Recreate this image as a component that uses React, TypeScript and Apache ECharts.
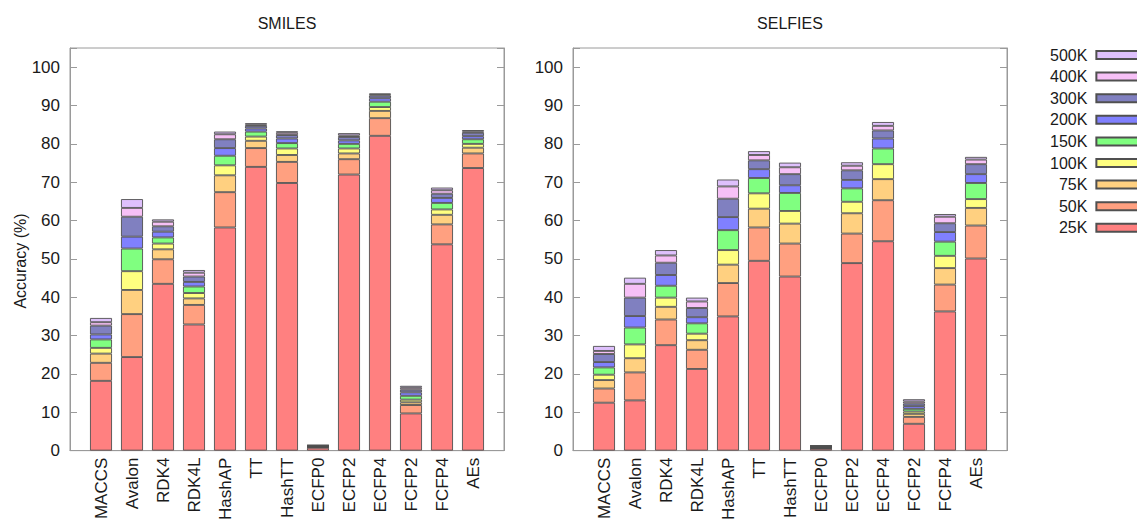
import React, { useEffect, useRef } from 'react';
import * as echarts from 'echarts';

// Fingerprint / representation methods along the x axis
const METHODS = ['MACCS', 'Avalon', 'RDK4', 'RDK4L', 'HashAP', 'TT', 'HashTT', 'ECFP0', 'ECFP2', 'ECFP4', 'FCFP2', 'FCFP4', 'AEs'];

// Training-set sizes, smallest first (stack order, bottom to top)
const SIZES = ['25K', '50K', '75K', '100K', '150K', '200K', '300K', '400K', '500K'];
const COLORS = ['#ff8080', '#ffa080', '#ffd080', '#ffff80', '#80ff80', '#8080ff', '#8080c0', '#f6c0f6', '#dec0fc'];

// Y axis tick labels
const Y_TICKS = [0, 10, 20, 30, 40, 50, 60, 70, 80, 90, 100];

// SMILES: accuracy (%) reached at each training size
const SMILES_25K = [18.2, 24.4, 43.5, 32.9, 58.2, 74.0, 69.8, 0.75, 72.0, 82.1, 9.7, 53.8, 73.7];
const SMILES_50K = [22.9, 35.6, 49.9, 38.0, 67.4, 78.9, 75.3, 0.88, 76.0, 86.7, 11.9, 59.0, 77.5];
const SMILES_75K = [25.3, 41.9, 52.5, 39.7, 71.8, 80.8, 77.1, 0.97, 77.5, 88.6, 12.6, 61.5, 79.0];
const SMILES_100K = [26.8, 46.8, 54.0, 41.1, 74.4, 81.9, 78.8, 1.05, 78.8, 89.6, 13.3, 62.9, 80.0];
const SMILES_150K = [29.0, 52.7, 55.6, 42.8, 76.9, 83.2, 80.2, 1.15, 80.0, 91.0, 14.3, 64.6, 81.2];
const SMILES_200K = [30.3, 55.8, 57.1, 44.0, 78.9, 84.0, 81.4, 1.25, 80.9, 91.9, 15.2, 65.9, 82.0];
const SMILES_300K = [32.6, 61.0, 58.5, 45.4, 81.2, 84.7, 82.3, 1.32, 81.8, 92.6, 15.9, 67.0, 82.9];
const SMILES_400K = [33.5, 63.3, 59.7, 46.4, 82.5, 85.0, 82.9, 1.38, 82.2, 92.9, 16.4, 67.9, 83.2];
const SMILES_500K = [34.6, 65.6, 60.3, 47.1, 83.2, 85.4, 83.3, 1.45, 82.8, 93.1, 16.9, 68.6, 83.6];

// SELFIES: accuracy (%) reached at each training size
const SELFIES_25K = [12.5, 13.1, 27.5, 21.3, 35.0, 49.5, 45.4, 0.5, 48.9, 54.6, 7.0, 36.3, 50.1];
const SELFIES_50K = [16.2, 20.4, 34.2, 26.3, 43.7, 58.2, 54.0, 0.65, 56.6, 65.3, 8.8, 43.3, 58.7];
const SELFIES_75K = [18.4, 24.1, 37.5, 28.8, 48.5, 63.1, 59.2, 0.75, 61.9, 70.8, 9.6, 47.6, 63.3];
const SELFIES_100K = [19.8, 27.7, 39.9, 30.5, 52.3, 67.1, 62.5, 0.85, 64.9, 74.7, 10.2, 50.8, 65.6];
const SELFIES_150K = [21.7, 32.1, 43.0, 33.2, 57.5, 71.1, 67.2, 1.0, 68.4, 78.8, 10.9, 54.5, 69.8];
const SELFIES_200K = [23.1, 35.1, 45.8, 34.8, 60.9, 73.4, 69.2, 1.1, 70.6, 81.4, 11.6, 57.0, 72.1];
const SELFIES_300K = [25.2, 39.9, 49.0, 37.2, 65.7, 75.7, 72.1, 1.18, 73.1, 83.5, 12.3, 59.3, 74.7];
const SELFIES_400K = [26.0, 43.5, 50.9, 38.9, 68.9, 77.1, 73.9, 1.24, 74.3, 84.7, 12.8, 61.0, 75.9];
const SELFIES_500K = [27.3, 45.1, 52.3, 39.9, 70.7, 78.1, 75.1, 1.3, 75.2, 85.7, 13.4, 61.7, 76.6];

const SMILES_LEVELS = [SMILES_25K, SMILES_50K, SMILES_75K, SMILES_100K, SMILES_150K, SMILES_200K, SMILES_300K, SMILES_400K, SMILES_500K];
const SELFIES_LEVELS = [SELFIES_25K, SELFIES_50K, SELFIES_75K, SELFIES_100K, SELFIES_150K, SELFIES_200K, SELFIES_300K, SELFIES_400K, SELFIES_500K];

const FONT = '"Liberation Sans", Arial, Helvetica, sans-serif';
const TEXT = '#1a1a1a';
const FRAME = '#9a9a9a';

// Padded category list: one empty slot on each side of the bars
const CATS = ['', ...METHODS, ' '];

// Stack segments: gain over the previous training size
function increments(levels: number[][], k: number): (number | string)[] {
  const vals = levels[k].map((v, i) => (k === 0 ? v : Math.round((v - levels[k - 1][i]) * 1000) / 1000));
  return ['-', ...vals, '-'];
}

function buildOption() {
  const grids = [
    { left: 70, top: 48, width: 434, height: 407 },
    { left: 573, top: 48, width: 434, height: 407 },
  ].map((g) => ({ ...g, show: true, borderColor: FRAME, borderWidth: 1, containLabel: false }));

  const xAxes = [0, 1].map((gi) => ({
    type: 'category',
    gridIndex: gi,
    data: CATS,
    boundaryGap: false,
    axisLine: { show: true, lineStyle: { color: FRAME, width: 1 } },
    axisTick: { show: false },
    splitLine: { show: false },
    axisLabel: {
      interval: 0,
      rotate: 90,
      margin: 7,
      fontSize: 17,
      fontFamily: FONT,
      color: TEXT,
    },
  }));

  const yBase = {
    type: 'value',
    min: 0,
    max: 105,
    interval: 10,
    splitLine: { show: false },
    axisLine: { show: true, lineStyle: { color: FRAME, width: 1 } },
    axisTick: { show: true, inside: true, length: 7, lineStyle: { color: FRAME } },
  };
  const yAxes: any[] = [];
  [0, 1].forEach((gi) => {
    yAxes.push({
      ...yBase,
      gridIndex: gi,
      position: 'left',
      axisLabel: {
        margin: 10,
        fontSize: 17,
        fontFamily: FONT,
        color: TEXT,
        formatter: (v: number) => (Y_TICKS.includes(v) ? String(v) : ''),
      },
    });
    yAxes.push({
      ...yBase,
      gridIndex: gi,
      position: 'right',
      axisLabel: { show: false },
    });
  });

  const series: any[] = [];
  [SMILES_LEVELS, SELFIES_LEVELS].forEach((levels, gi) => {
    SIZES.forEach((name, k) => {
      series.push({
        type: 'bar',
        name,
        xAxisIndex: gi,
        yAxisIndex: gi * 2,
        stack: gi === 0 ? 'smiles' : 'selfies',
        barWidth: 22,
        data: increments(levels, k),
        itemStyle: { color: COLORS[k], borderColor: '#505050', borderWidth: 0.9 },
        emphasis: { disabled: true },
      });
    });
  });

  return {
    animation: false,
    backgroundColor: '#ffffff',
    grid: grids,
    xAxis: xAxes,
    yAxis: yAxes,
    series,
    legend: {
      orient: 'vertical',
      left: 1050,
      top: 47,
      padding: 0,
      itemGap: 5.6,
      itemWidth: 44,
      itemHeight: 8,
      align: 'right',
      icon: 'rect',
      selectedMode: false,
      data: [...SIZES].reverse(),
      textStyle: { fontSize: 16, fontFamily: FONT, color: TEXT, lineHeight: 16, padding: [0, 4, 0, 0] },
    },
    graphic: [
      {
        type: 'text',
        x: 287,
        y: 23,
        style: { text: 'SMILES', fontSize: 16, fontFamily: FONT, fill: TEXT, align: 'center', verticalAlign: 'middle' },
      },
      {
        type: 'text',
        x: 790,
        y: 23,
        style: { text: 'SELFIES', fontSize: 16, fontFamily: FONT, fill: TEXT, align: 'center', verticalAlign: 'middle' },
      },
      {
        type: 'text',
        x: 20,
        y: 261,
        rotation: Math.PI / 2,
        style: { text: 'Accuracy (%)', fontSize: 16, fontFamily: FONT, fill: TEXT, align: 'center', verticalAlign: 'middle' },
      },
    ],
  };
}

export default function App() {
  const ref = useRef<HTMLDivElement>(null);
  useEffect(() => {
    if (!ref.current) return;
    const chart = echarts.init(ref.current, undefined, { renderer: 'svg' });
    chart.setOption(buildOption() as any);
    return () => chart.dispose();
  }, []);
  return (
    <div
      ref={ref}
      style={{ position: 'absolute', left: 0, top: 0, width: 1137, height: 523, background: '#fff' }}
    />
  );
}
